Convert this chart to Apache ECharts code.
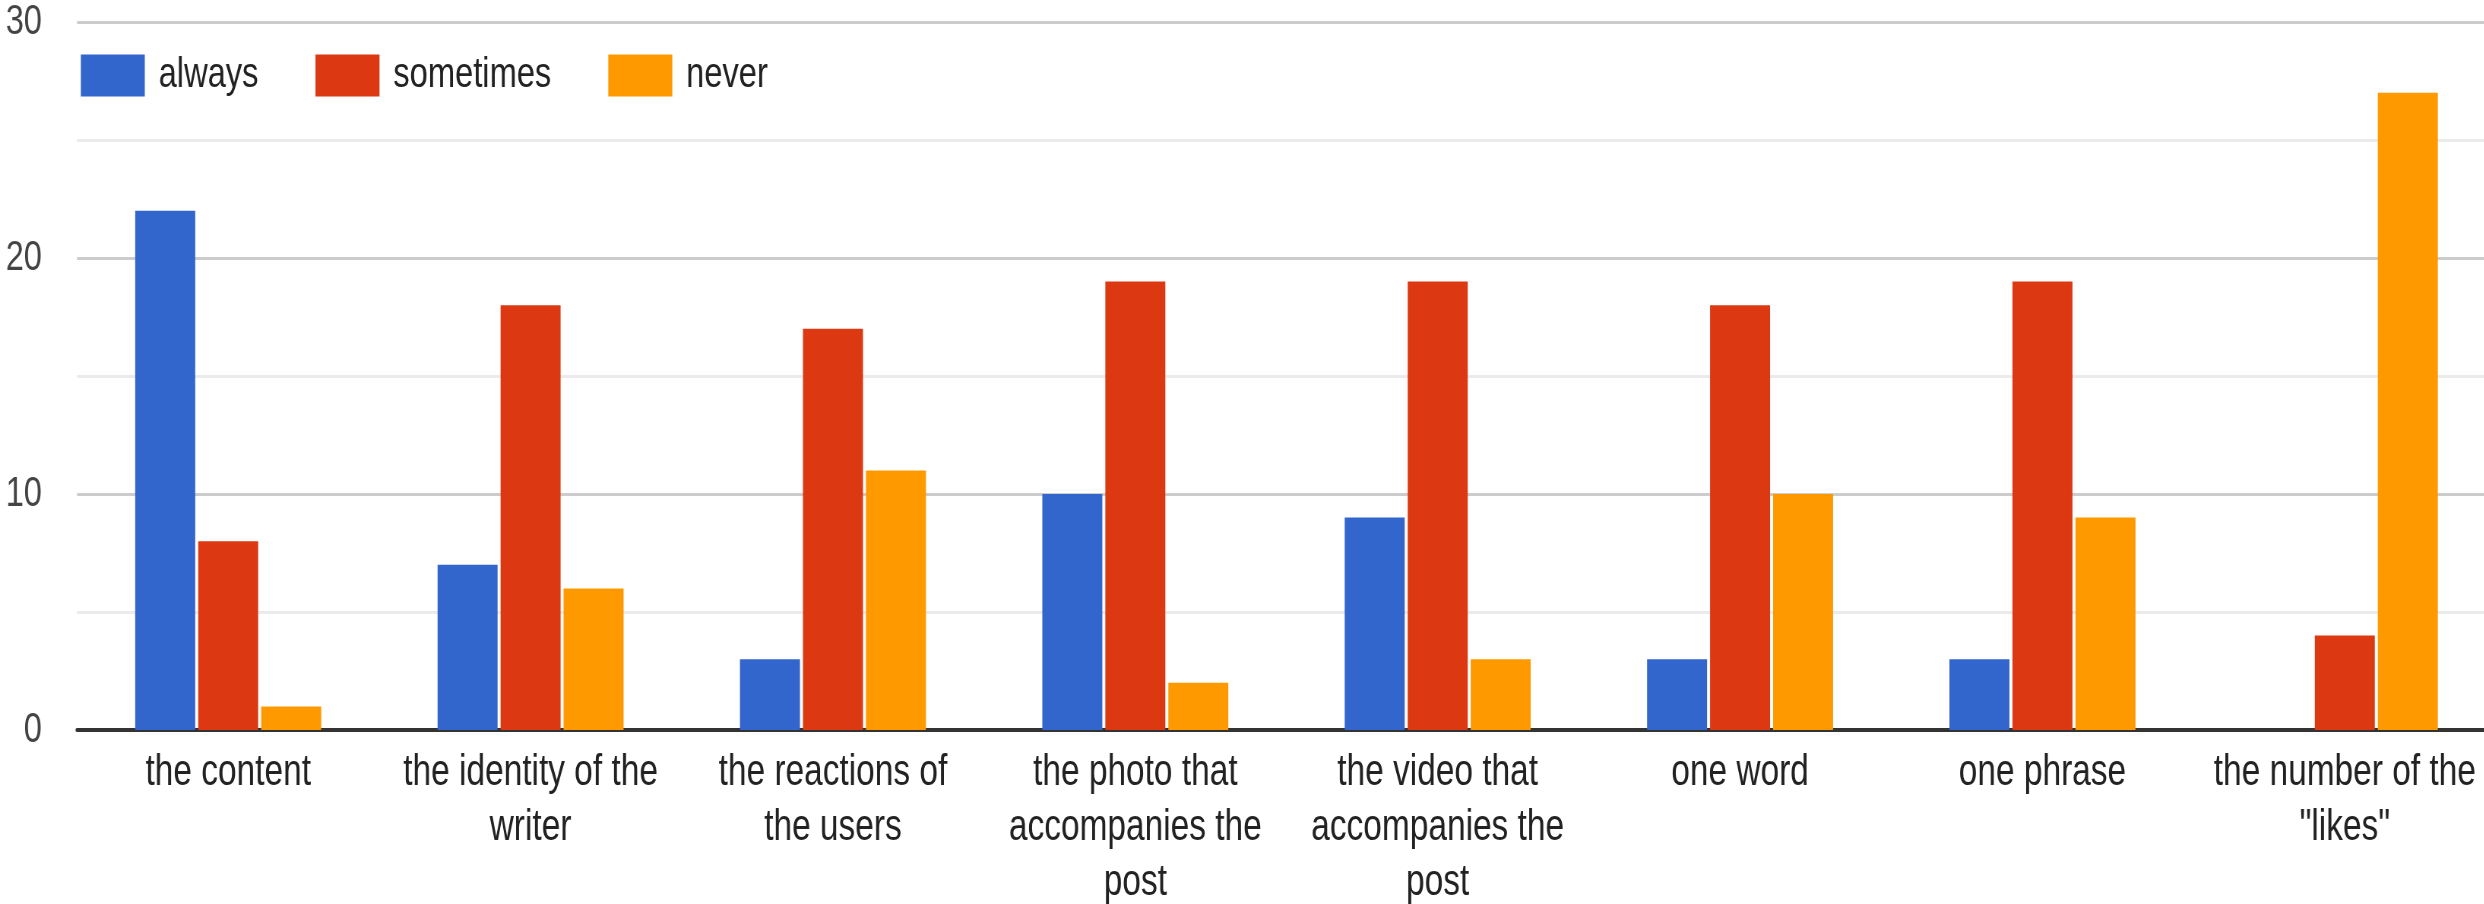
<!DOCTYPE html>
<html>
<head>
<meta charset="utf-8">
<title>Responses by element</title>
<script src="https://cdn.jsdelivr.net/npm/echarts@6/dist/echarts.min.js"></script>
<style>
  html, body { margin: 0; padding: 0; background: #ffffff; overflow: hidden; width: 2484px; height: 904px; }
  /* The chart is laid out wider and squeezed horizontally to get the narrow lettering */
  #chart { height: 904px; transform-origin: 0 0; }
</style>
</head>
<body>
<div id="chart"></div>
<script>
// Category labels (line breaks as shown under each group)
const categories = [
  'the content',
  'the identity of the\nwriter',
  'the reactions of\nthe users',
  'the photo that\naccompanies the\npost',
  'the video that\naccompanies the\npost',
  'one word',
  'one phrase',
  'the number of the\n"likes"'
];

const seriesNames = ['always', 'sometimes', 'never'];

const always    = [22, 7, 3, 10, 9, 3, 3, 0];
const sometimes = [8, 18, 17, 19, 19, 18, 19, 4];
const never     = [1, 6, 11, 2, 3, 10, 9, 27];

const yTicks = [0, 10, 20, 30];

const colors = ['#3366cc', '#dc3912', '#ff9900'];
const FONT = '"Liberation Sans", Arial, sans-serif';

// horizontal squeeze factor; x-measurements below are in final pixels, divided by SX
const SX = 0.76;
const W = 2484;
const el = document.getElementById('chart');
el.style.width = (W / SX) + 'px';
el.style.transform = 'scaleX(' + SX + ')';

const chart = echarts.init(el, null, { renderer: 'canvas' });

function barSeries(name, data, color) {
  return {
    name: name,
    type: 'bar',
    data: data,
    barWidth: 60 / SX,
    barGap: '5%',
    itemStyle: { color: color },
    emphasis: { disabled: true }
  };
}

chart.setOption({
  animation: false,
  backgroundColor: '#ffffff',
  color: colors,
  textStyle: { fontFamily: FONT },
  legend: {
    top: 49,
    left: 77 / SX,
    itemWidth: 64 / SX,
    itemHeight: 42,
    itemGap: 57 / SX,
    icon: 'rect',
    textStyle: { fontSize: 43, color: '#222222', fontFamily: FONT, padding: [0, 0, 0, 10 / SX] },
    data: seriesNames
  },
  grid: {
    left: 77 / SX, top: 22, width: 2419 / SX, height: 708,
    containLabel: false,
    outerBoundsMode: 'none'
  },
  xAxis: {
    type: 'category',
    data: categories,
    axisTick: { show: false },
    axisLine: { lineStyle: { color: '#333333', width: 4 } },
    axisLabel: {
      interval: 0,
      margin: 15,
      fontSize: 44,
      lineHeight: 55,
      color: '#222222',
      fontFamily: FONT
    },
    splitLine: { show: false }
  },
  yAxis: {
    type: 'value',
    min: yTicks[0],
    max: yTicks[yTicks.length - 1],
    interval: 10,
    axisLine: { show: false },
    axisTick: { show: false },
    axisLabel: { fontSize: 43, color: '#444444', margin: 35 / SX, fontFamily: FONT },
    splitLine: { lineStyle: { color: '#cccccc', width: 3 } },
    minorTick: { show: false, splitNumber: 2 },
    minorSplitLine: { show: true, lineStyle: { color: '#ebebeb', width: 3 } }
  },
  series: [
    barSeries(seriesNames[0], always, colors[0]),
    barSeries(seriesNames[1], sometimes, colors[1]),
    barSeries(seriesNames[2], never, colors[2])
  ]
});
</script>
</body>
</html>
